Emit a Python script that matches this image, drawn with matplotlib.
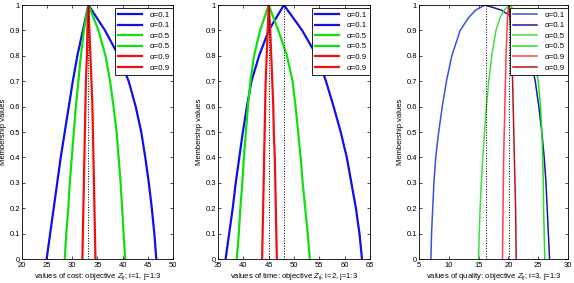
import matplotlib
matplotlib.use("Agg")
import matplotlib.pyplot as plt

plt.rcParams["font.family"] = ["Liberation Sans", "DejaVu Sans"]
plt.rcParams["mathtext.fontset"] = "custom"
plt.rcParams["mathtext.rm"] = "Liberation Sans"
plt.rcParams["mathtext.it"] = "Liberation Sans:italic"

# ---- data: value at each membership level, per branch ----
# cost, i=1
cost_y = [0, 0.1, 0.2, 0.3, 0.4, 0.5, 0.6, 0.7, 0.8, 0.9, 1.0]
cost_a01_left = [24.9, 25.6, 26.3, 27.0, 27.7, 28.5, 29.3, 30.1, 31.0, 32.1, 33.2]
cost_a01_right = [46.7, 46.3, 45.8, 45.2, 44.5, 43.7, 42.6, 41.2, 39.2, 36.5, 33.2]
cost_a05_left = [28.5, 28.8, 29.2, 29.5, 29.9, 30.3, 30.7, 31.2, 31.7, 32.3, 33.2]
cost_a05_right = [40.5, 40.2, 39.9, 39.6, 39.2, 38.8, 38.2, 37.5, 36.6, 35.2, 33.2]
cost_a09_left = [32.0, 32.1, 32.2, 32.3, 32.4, 32.5, 32.6, 32.7, 32.9, 33.0, 33.2]
cost_a09_right = [34.6, 34.5, 34.4, 34.3, 34.2, 34.1, 34.0, 33.8, 33.6, 33.4, 33.2]
cost_peaks = [33.2]

# time, i=2
time_y = [0, 0.1, 0.2, 0.3, 0.4, 0.5, 0.6, 0.7, 0.8, 0.9, 1.0]
time_a01_left = [36.5, 37.2, 37.9, 38.5, 39.2, 39.9, 40.7, 41.6, 43.1, 45.0, 48.0]
time_a01_right = [63.4, 62.9, 62.2, 61.3, 60.4, 59.2, 57.8, 56.3, 54.5, 51.6, 48.0]
time_a05_left = [38.7, 39.1, 39.4, 39.8, 40.1, 40.5, 40.9, 41.4, 42.1, 43.3, 45.0]
time_a05_right = [53.1, 52.7, 52.2, 51.7, 51.3, 50.8, 50.3, 49.7, 48.6, 46.9, 45.0]
time_a09_left = [43.7, 43.8, 43.9, 44.0, 44.1, 44.2, 44.3, 44.4, 44.6, 44.8, 45.0]
time_a09_right = [46.6, 46.5, 46.4, 46.3, 46.2, 46.0, 45.9, 45.7, 45.5, 45.3, 45.0]
time_peaks = [45.0, 48.0]

# quality, i=3
qual_y = [0, 0.1, 0.2, 0.3, 0.4, 0.5, 0.6, 0.7, 0.8, 0.9, 0.95, 0.98, 1.0]
qual_a01_left = [7.0, 7.1, 7.3, 7.5, 7.8, 8.3, 8.9, 9.6, 10.5, 11.9, 13.3, 14.5, 16.1]
qual_a01_right = [26.9, 26.7, 26.5, 26.3, 26.0, 25.6, 25.1, 24.5, 23.6, 22.3, 20.8, 18.8, 16.1]
qual_a05_left = [15.0, 15.1, 15.25, 15.45, 15.7, 16.0, 16.3, 16.7, 17.2, 17.9, 18.6, 19.3, 20.1]
qual_a05_right = [26.1, 26.0, 25.9, 25.85, 25.75, 25.6, 25.4, 25.0, 24.2, 22.9, 21.9, 21.0, 20.1]
qual_a09_left = [19.0, 19.05, 19.1, 19.15, 19.2, 19.3, 19.4, 19.5, 19.6, 19.75, 19.85, 19.95, 20.05]
qual_a09_right = [21.3, 21.25, 21.2, 21.1, 21.0, 20.9, 20.8, 20.7, 20.55, 20.4, 20.25, 20.15, 20.05]
qual_peaks = [16.3, 20.1]

legend_labels = ["α=0.1", "α=0.1", "α=0.5", "α=0.5", "α=0.9", "α=0.9"]

panels = [
    dict(y=cost_y, curves=[cost_a01_left, cost_a01_right, cost_a05_left, cost_a05_right,
                           cost_a09_left, cost_a09_right],
         peaks=cost_peaks, xlim=(20, 50), xticks=range(20, 51, 5),
         xlabel=r"values of cost: objective $Z_{ij}$; i=1, j=1:3",
         colors=["#1010e8", "#1010e8", "#10e010", "#10e010", "#f01010", "#f01010"], lw=1.6,
         pos=[0.0383, 0.0848, 0.263, 0.8975]),
    dict(y=time_y, curves=[time_a01_left, time_a01_right, time_a05_left, time_a05_right,
                           time_a09_left, time_a09_right],
         peaks=time_peaks, xlim=(35, 65), xticks=range(35, 66, 5),
         xlabel=r"values of time: objective $Z_{ij}$; i=2, j=1:3",
         colors=["#1010e8", "#1010e8", "#10e010", "#10e010", "#f01010", "#f01010"], lw=1.6,
         pos=[0.3798, 0.0848, 0.265, 0.8975]),
    dict(y=qual_y, curves=[qual_a01_left, qual_a01_right, qual_a05_left, qual_a05_right,
                           qual_a09_left, qual_a09_right],
         peaks=qual_peaks, xlim=(5, 30), xticks=range(5, 31, 5),
         xlabel=r"values of quality: objective $Z_{ij}$; i=3, j=1:3",
         colors=["#3a50e0", "#1a1aa0", "#40e040", "#20e020", "#ff4040", "#b01818"], lw=1.1,
         pos=[0.730, 0.0848, 0.2596, 0.8975]),
]

fig = plt.figure(figsize=(5.74, 2.83), dpi=100)

for p in panels:
    ax = fig.add_axes(p["pos"])
    handles = []
    for xs, c, lab in zip(p["curves"], p["colors"], legend_labels):
        h, = ax.plot(xs, p["y"], color=c, linewidth=p["lw"], label=lab)
        handles.append(h)
    for xp in p["peaks"]:
        ax.plot([xp, xp], [0, 1], color="black", linestyle=":", linewidth=0.7)
    ax.set_xlim(*p["xlim"])
    ax.set_ylim(0, 1)
    ax.set_xticks(list(p["xticks"]))
    ax.set_yticks([i / 10 for i in range(11)])
    ax.set_yticklabels(["0"] + [f"0.{i}" for i in range(1, 10)] + ["1"])
    ax.tick_params(direction="in", length=2.5, width=0.5, labelsize=5.5, pad=1.5,
                   top=True, right=True)
    ax.tick_params(axis="x", pad=2.5)
    for s in ax.spines.values():
        s.set_linewidth(0.6)
    ax.set_xlabel(p["xlabel"], fontsize=5.5, labelpad=1.0)
    ax.set_ylabel("Membership values", fontsize=5.5, labelpad=2)
    leg = ax.legend(handles=handles, loc="upper right", bbox_to_anchor=(1.0, 0.988),
                    borderaxespad=0, fontsize=5.7, handlelength=3.0, handletextpad=1.0,
                    labelspacing=0.38, borderpad=0.4, fancybox=False, framealpha=1,
                    edgecolor="black")
    leg.get_frame().set_linewidth(0.6)

fig.savefig("out.png", dpi=100)
